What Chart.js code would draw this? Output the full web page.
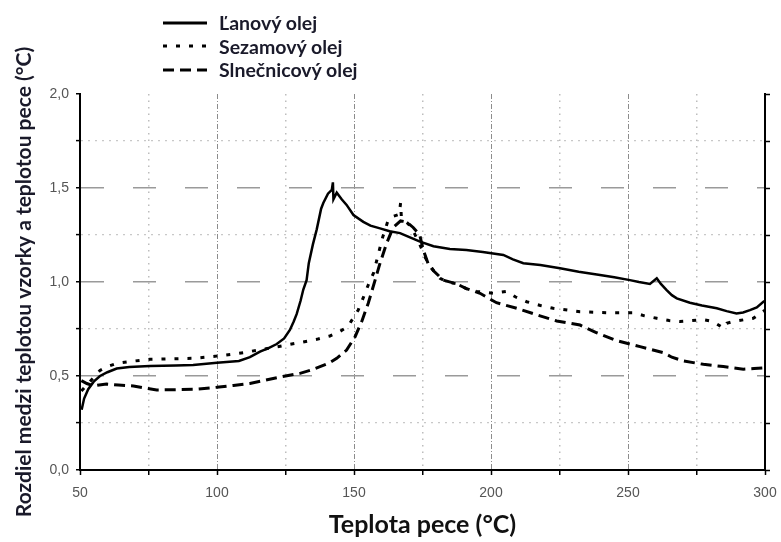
<!DOCTYPE html>
<html lang="sk">
<head>
<meta charset="UTF-8">
<title>Rozdiel teplôt</title>
<style>
  body { margin: 0; background: #fff; }
  .wrap { position: relative; width: 781px; height: 542px; }
  .legend { position: absolute; left: 163px; top: 11px; font-family: Lato, sans-serif; font-weight: bold; font-size: 19.5px; color: #1a1a2a; }
  .legend-item { display: flex; align-items: center; height: 23.5px; }
  .legend-item svg { width: 44px; height: 6px; margin-right: 12px; }
</style>
</head>
<body>
<div class="wrap">
  <canvas id="chart"></canvas>
  <div class="legend" id="legend"></div>
</div>

<script src="https://cdn.jsdelivr.net/npm/chart.js"></script>
<script>
// Ľanový olej
const lanT = [50.6, 51.5, 53, 55, 57.3, 60, 63.4, 68, 75.5, 85, 91.3, 100, 108, 112, 115.7, 119, 121.8, 124.5, 126.6, 128,
  129.1, 130.5, 131.5, 132.7, 133.5, 135, 136.4, 138, 138.8, 140.5, 141.9, 142.3, 142.5, 143.7, 145.5, 147.3, 149.8, 153.4, 156, 159.5,
  163, 166.8, 170, 174.1, 179, 185, 191, 197, 204.5, 208, 211.8, 218, 225.2, 232, 239.8, 245, 250.7, 254, 258, 260.5,
  262, 264.1, 266, 267.8, 272.6, 277, 282.4, 286, 289.6, 292, 294.5, 297, 299.4, 300];
const lanY = [0.32, 0.38, 0.43, 0.47, 0.50, 0.52, 0.54, 0.548, 0.553, 0.556, 0.558, 0.57, 0.58, 0.60, 0.63, 0.65, 0.67, 0.70, 0.745, 0.79,
  0.83, 0.90, 0.96, 1.01, 1.10, 1.20, 1.28, 1.39, 1.42, 1.47, 1.49, 1.53, 1.44, 1.475, 1.44, 1.41, 1.356, 1.32, 1.30, 1.285,
  1.27, 1.26, 1.24, 1.215, 1.19, 1.175, 1.17, 1.16, 1.144, 1.12, 1.10, 1.09, 1.073, 1.055, 1.037, 1.025, 1.01, 1.0, 0.99, 1.02,
  0.99, 0.957, 0.93, 0.913, 0.89, 0.875, 0.86, 0.845, 0.833, 0.838, 0.85, 0.865, 0.895, 0.90];

// Sezamový olej
const sezT = [50.5, 53.6, 57.3, 60, 63.4, 70, 75.5, 85, 91.4, 99.9, 105, 109.6, 115.7, 120, 125.4, 131, 136.4, 141.2, 144, 146.7,
  148.5, 149.8, 151.5, 152.8, 155.2, 157.2, 158.9, 160.5, 162.5, 164.5, 166.5, 167, 167.3, 169.8, 172, 174, 176, 178.5, 181.4, 184,
  187.5, 191, 194.8, 200.8, 205.7, 209, 213, 218, 222.7, 232.5, 242.2, 252, 256, 260.5, 265, 269, 277.5, 281, 284.8, 286,
  288.4, 295.7, 298, 300];
const sezY = [0.42, 0.47, 0.53, 0.55, 0.567, 0.58, 0.589, 0.592, 0.594, 0.606, 0.615, 0.624, 0.64, 0.65, 0.665, 0.68, 0.695, 0.713, 0.73, 0.753,
  0.78, 0.81, 0.85, 0.895, 0.984, 1.05, 1.15, 1.24, 1.33, 1.35, 1.36, 1.42, 1.34, 1.31, 1.26, 1.20, 1.13, 1.07, 1.02, 1.00,
  0.99, 0.965, 0.95, 0.94, 0.95, 0.92, 0.895, 0.875, 0.86, 0.842, 0.837, 0.837, 0.82, 0.807, 0.795, 0.79, 0.80, 0.79, 0.755, 0.78,
  0.79, 0.807, 0.83, 0.85];

// Slnečnicový olej
const slnT = [50.5, 52.5, 54.9, 57, 59.7, 64, 69.5, 74, 78, 85, 91.4, 99.9, 106, 112, 120.5, 125, 130.3, 134, 137.6, 141,
  143.7, 147.3, 150.4, 152.8, 155.2, 157.7, 159.5, 161.9, 164.3, 167, 169.2, 171.6, 174, 175.3, 177, 179, 182.6, 187.5, 191, 196,
  202, 209.4, 217.9, 224, 232.5, 238.6, 245.9, 254.4, 262.9, 266, 270.2, 277.5, 284.8, 292.1, 296, 300];
const slnY = [0.475, 0.46, 0.447, 0.452, 0.457, 0.452, 0.447, 0.435, 0.426, 0.427, 0.429, 0.44, 0.45, 0.46, 0.487, 0.50, 0.514, 0.53, 0.55, 0.57,
  0.594, 0.638, 0.709, 0.789, 0.887, 1.01, 1.10, 1.206, 1.29, 1.325, 1.32, 1.29, 1.25, 1.17, 1.10, 1.06, 1.01, 0.99, 0.965, 0.94,
  0.89, 0.86, 0.82, 0.793, 0.771, 0.73, 0.688, 0.656, 0.624, 0.60, 0.58, 0.562, 0.55, 0.536, 0.54, 0.544];

const seriesNames = ['Ľanový olej', 'Sezamový olej', 'Slnečnicový olej'];
const xTickLabels = [50, 100, 150, 200, 250, 300];
const yTickLabels = [0, 0.5, 1.0, 1.5, 2.0];

const toPoints = (xs, ys) => xs.map((x, i) => ({ x: x, y: ys[i] }));
const isMajor = (v, list) => list.some(t => Math.abs(t - v) < 1e-6);
const fmt = v => v.toFixed(1).replace('.', ',');

const tickFont = { family: '"Liberation Sans", Arial, sans-serif', size: 14 };

// HTML legend built from the datasets
const htmlLegend = {
  id: 'htmlLegend',
  afterUpdate(chart) {
    const box = document.getElementById('legend');
    box.innerHTML = '';
    chart.data.datasets.forEach(ds => {
      const row = document.createElement('div');
      row.className = 'legend-item';
      const dash = (ds.borderDash || []).join(' ');
      row.innerHTML = '<svg viewBox="0 0 44 6"><line x1="0" y1="3" x2="44" y2="3" stroke="#000" stroke-width="3"' +
        (dash ? ' stroke-dasharray="' + dash + '"' : '') + '/></svg><span>' + ds.label + '</span>';
      box.appendChild(row);
    });
  }
};

const ctx = document.getElementById('chart').getContext('2d');
new Chart(ctx, {
  type: 'line',
  data: {
    datasets: [
      { label: seriesNames[0], data: toPoints(lanT, lanY), borderColor: '#000', borderWidth: 2.5, pointRadius: 0 },
      { label: seriesNames[1], data: toPoints(sezT, sezY), borderColor: '#000', borderWidth: 3, borderDash: [4, 9], pointRadius: 0 },
      { label: seriesNames[2], data: toPoints(slnT, slnY), borderColor: '#000', borderWidth: 3, borderDash: [11, 6], pointRadius: 0 }
    ]
  },
  options: {
    responsive: true,
    maintainAspectRatio: false,
    animation: false,
    layout: { padding: { top: 94, left: 0, right: 0, bottom: 0 } },
    plugins: { legend: { display: false }, tooltip: { enabled: false } },
    scales: {
      x: {
        type: 'linear', min: 50, max: 300,
        ticks: {
          stepSize: 25, autoSkip: false, maxRotation: 0, color: '#555', font: tickFont, padding: 10,
          callback: v => isMajor(v, xTickLabels) ? String(v) : ''
        },
        grid: {
          color: c => (c.tick && (c.tick.value === 50 || c.tick.value === 300)) ? 'rgba(0,0,0,0)' :
            (c.tick && isMajor(c.tick.value, xTickLabels) ? '#8c8c8c' : '#bdbdbd'),
          lineWidth: c => (c.tick && isMajor(c.tick.value, xTickLabels)) ? 1 : 1.5,
          tickColor: '#000', tickLength: 5, tickWidth: 1.5
        },
        border: {
          color: '#000', width: 2,
          dash: c => !c.tick ? [] : (isMajor(c.tick.value, xTickLabels) ? [5, 2, 1, 2] : [1.5, 5])
        },
        title: { display: true, text: 'Teplota pece (°C)', color: '#111', font: { family: 'Lato, sans-serif', size: 25, weight: 'bold' }, padding: { top: 2, bottom: 2 } },
        afterFit: s => { s.height = 72; s.paddingLeft = 0; s.paddingRight = 0; }
      },
      y: {
        min: 0, max: 2,
        ticks: {
          stepSize: 0.25, autoSkip: false, color: '#555', font: tickFont, padding: 7,
          callback: v => isMajor(v, yTickLabels) ? fmt(v) : ''
        },
        grid: {
          color: c => (c.tick && (c.tick.value === 0 || c.tick.value === 2)) ? 'rgba(0,0,0,0)' :
            (c.tick && isMajor(c.tick.value, yTickLabels) ? '#9a9a9a' : '#c8c8c8'),
          lineWidth: c => (c.tick && isMajor(c.tick.value, yTickLabels)) ? 1.5 : 1.2,
          tickColor: '#000', tickLength: 4, tickWidth: 1.5
        },
        border: {
          color: '#000', width: 2,
          dash: c => !c.tick ? [] : (isMajor(c.tick.value, yTickLabels) ? [23, 29] : [2, 5])
        },
        title: { display: true, text: 'Rozdiel medzi teplotou vzorky a teplotou pece (°C)', color: '#1a1a2a', font: { family: 'Lato, sans-serif', size: 21, weight: 'bold' }, padding: { top: 12, bottom: 0 } },
        afterFit: s => { s.width = 80; }
      },
      y2: {
        position: 'right', min: 0, max: 2,
        ticks: { stepSize: 0.25, autoSkip: false, callback: () => '' },
        grid: { drawOnChartArea: false, tickColor: '#000', tickLength: 5, tickWidth: 1.5 },
        border: { color: '#000', width: 2 },
        afterFit: s => { s.width = 16; }
      }
    }
  },
  plugins: [htmlLegend]
});
</script>
</body>
</html>
